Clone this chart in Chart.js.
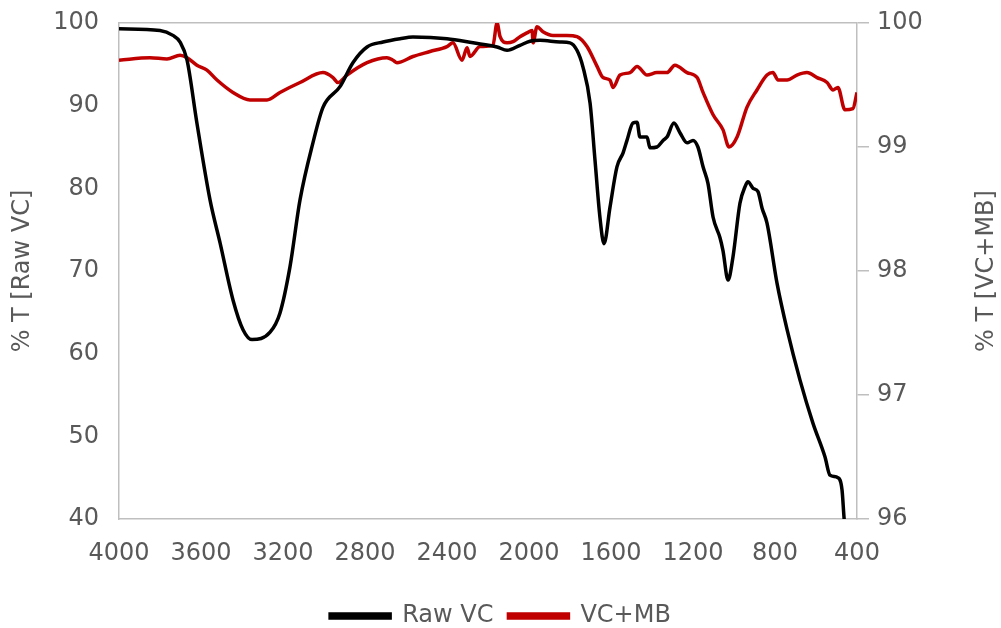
<!DOCTYPE html>
<html>
<head>
<meta charset="utf-8">
<script src="https://cdn.jsdelivr.net/npm/chart.js@4.4.1/dist/chart.umd.min.js"></script>
<style>
    html, body { margin: 0; padding: 0; background: #fff; }
    canvas { display: block; }
</style>
</head>
<body>
<canvas id="ftirChart" width="1001" height="628"></canvas>
<script>
// Raw VC, left axis (% T)
const rawWn = [4000, 3800, 3737, 3702, 3668, 3620, 3556, 3507, 3444, 3395, 3351, 3263, 3215, 3166, 3117, 3054, 3005, 2922, 2859, 2790, 2712, 2629, 2566, 2400, 2273, 2156, 2107, 2044, 1995, 1946, 1849, 1800, 1766, 1737, 1702, 1678, 1654, 1634, 1605, 1571, 1541, 1522, 1493, 1473, 1459, 1424, 1410, 1376, 1346, 1327, 1293, 1263, 1229, 1200, 1176, 1151, 1127, 1102, 1068, 1054, 1029, 1005, 971, 946, 932, 907, 883, 863, 839, 790, 741, 678, 615, 556, 532, 493, 473, 463, 450];
const rawT = [99.3, 99.1, 98.5, 97.7, 95.5, 87.9, 78.6, 73.4, 66.5, 62.9, 61.7, 62.6, 64.9, 70.5, 78.6, 85.5, 89.8, 92.3, 95.2, 97.1, 97.7, 98.1, 98.3, 98.1, 97.6, 97.1, 96.7, 97.3, 97.8, 97.9, 97.7, 97.6, 96.7, 94.7, 90.3, 83.4, 76.5, 73.3, 77.7, 82.6, 84.3, 85.8, 87.9, 88.0, 86.2, 86.2, 84.9, 85.0, 85.8, 86.2, 87.9, 86.7, 85.5, 85.8, 85.0, 82.6, 80.6, 76.5, 74.0, 72.5, 68.9, 71.7, 78.2, 80.2, 80.8, 80.0, 79.6, 77.6, 75.8, 68.5, 62.9, 56.8, 51.6, 47.5, 45.3, 45.0, 43.5, 40.1, 37.0];

// VC+MB, right axis (% T)
const mbWn = [4000, 3849, 3766, 3702, 3668, 3620, 3571, 3522, 3444, 3361, 3278, 3215, 3117, 3005, 2956, 2932, 2888, 2790, 2693, 2663, 2644, 2566, 2483, 2400, 2371, 2327, 2302, 2288, 2239, 2176, 2156, 2141, 2107, 2078, 2044, 2010, 1985, 1980, 1961, 1932, 1883, 1815, 1766, 1717, 1668, 1639, 1605, 1590, 1556, 1507, 1473, 1424, 1376, 1327, 1288, 1229, 1180, 1151, 1102, 1054, 1024, 985, 937, 888, 839, 810, 785, 741, 693, 644, 595, 546, 517, 493, 459, 420, 400];
const mbT = [99.70, 99.72, 99.71, 99.74, 99.72, 99.66, 99.62, 99.54, 99.44, 99.38, 99.38, 99.44, 99.52, 99.60, 99.56, 99.52, 99.58, 99.68, 99.72, 99.70, 99.68, 99.73, 99.77, 99.81, 99.84, 99.70, 99.80, 99.73, 99.81, 99.82, 100.0, 99.89, 99.84, 99.85, 99.89, 99.92, 99.94, 99.84, 99.97, 99.93, 99.90, 99.90, 99.89, 99.81, 99.65, 99.56, 99.54, 99.48, 99.58, 99.60, 99.65, 99.58, 99.60, 99.60, 99.66, 99.60, 99.56, 99.44, 99.26, 99.14, 99.00, 99.08, 99.32, 99.46, 99.58, 99.60, 99.54, 99.54, 99.58, 99.60, 99.56, 99.52, 99.46, 99.48, 99.30, 99.31, 99.44];

const xTickValues = [4000, 3600, 3200, 2800, 2400, 2000, 1600, 1200, 800, 400];
const leftTickValues = [40, 50, 60, 70, 80, 90, 100];
const rightTickValues = [96, 97, 98, 99, 100];

const textColor = '#595959';
const axisColor = '#bfbfbf';
const font = { family: 'DejaVu Sans', size: 24 };

// Excel-style right title reads bottom-to-top, Chart.js rotates it the other way
const rightTitlePlugin = {
    id: 'rightTitle',
    afterDraw(chart) {
        const { ctx, chartArea } = chart;
        ctx.save();
        ctx.translate(987, (chartArea.top + chartArea.bottom) / 2);
        ctx.rotate(-Math.PI / 2);
        ctx.font = '24px "DejaVu Sans"';
        ctx.fillStyle = textColor;
        ctx.textAlign = 'center';
        ctx.textBaseline = 'middle';
        ctx.fillText('% T [VC+MB]', 0, 0);
        ctx.restore();
    }
};

// fixed axis width, and no extra vertical padding from the tick labels
const fixWidth = w => scale => {
    scale.width = w;
    scale.paddingTop = 0;
    scale.paddingBottom = 0;
};

const ctx = document.getElementById('ftirChart').getContext('2d');

new Chart(ctx, {
    type: 'line',
    data: {
        datasets: [
            {
                label: 'Raw VC',
                data: rawWn.map((x, i) => ({ x: x, y: rawT[i] })),
                borderColor: '#000000',
                backgroundColor: '#000000',
                borderWidth: 3.5,
                pointRadius: 0,
                cubicInterpolationMode: 'monotone',
                yAxisID: 'y'
            },
            {
                label: 'VC+MB',
                data: mbWn.map((x, i) => ({ x: x, y: mbT[i] })),
                borderColor: '#c00000',
                backgroundColor: '#c00000',
                borderWidth: 3.5,
                pointRadius: 0,
                cubicInterpolationMode: 'monotone',
                yAxisID: 'y2'
            }
        ]
    },
    options: {
        responsive: false,
        animation: false,
        layout: {
            padding: { top: 23, left: 0, right: 0, bottom: -10 }
        },
        plugins: {
            legend: {
                position: 'bottom',
                labels: {
                    font: font,
                    color: textColor,
                    boxWidth: 60,
                    boxHeight: 4,
                    padding: 15
                }
            },
            tooltip: { enabled: false }
        },
        scales: {
            x: {
                type: 'linear',
                reverse: true,
                min: 400,
                max: 4000,
                afterBuildTicks: scale => { scale.ticks = xTickValues.map(v => ({ value: v })); },
                afterFit: scale => { scale.height = 70; },
                grid: { display: false, drawTicks: false },
                border: { display: true, color: axisColor, width: 1.5 },
                ticks: {
                    font: font,
                    color: textColor,
                    padding: 20,
                    maxRotation: 0,
                    autoSkip: false,
                    callback: value => value
                }
            },
            y: {
                position: 'left',
                min: 40,
                max: 100,
                afterBuildTicks: scale => { scale.ticks = leftTickValues.map(v => ({ value: v })); },
                afterFit: fixWidth(119),
                grid: { display: false, drawTicks: false },
                border: { display: true, color: axisColor, width: 1.5 },
                ticks: { font: font, color: textColor, padding: 20 },
                title: {
                    display: true,
                    text: '% T [Raw VC]',
                    font: font,
                    color: textColor,
                    padding: { top: 8, bottom: 0 }
                }
            },
            y2: {
                position: 'right',
                min: 96,
                max: 100,
                afterBuildTicks: scale => { scale.ticks = rightTickValues.map(v => ({ value: v })); },
                afterFit: fixWidth(144),
                grid: {
                    drawOnChartArea: true,
                    drawTicks: true,
                    tickLength: 12,
                    lineWidth: 1.5,
                    color: c => (c.tick && c.tick.value === 100 ? axisColor : 'rgba(0,0,0,0)'),
                    tickColor: axisColor
                },
                border: { display: true, color: axisColor, width: 1.5 },
                ticks: { font: font, color: textColor, padding: 8 }
            }
        }
    },
    plugins: [rightTitlePlugin]
});
</script>
</body>
</html>
